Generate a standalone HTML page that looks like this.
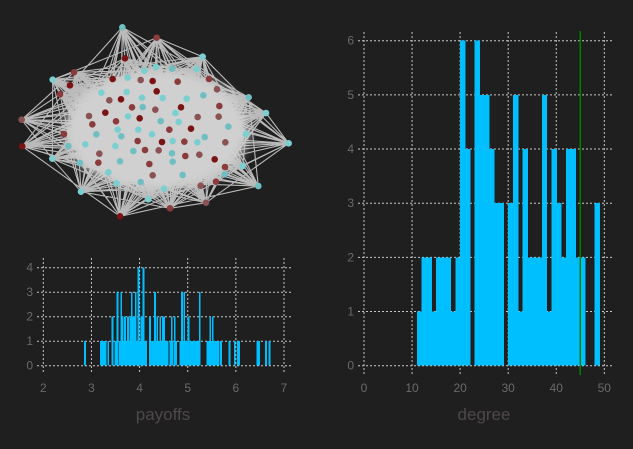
<!DOCTYPE html>
<html><head><meta charset="utf-8"><style>
html,body{margin:0;padding:0;background:#1f1f1f;}
svg{display:block;font-family:"Liberation Sans",sans-serif;}
</style></head><body>
<svg id="c" width="633" height="449" viewBox="0 0 633 449">
<defs><filter id="blur" x="-30%" y="-30%" width="160%" height="160%"><feGaussianBlur stdDeviation="5"/></filter></defs>
<rect width="633" height="449" fill="#1f1f1f"/>
<g id="net"></g>
<g id="pay"></g>
<g id="deg"></g>
</svg>
<script>
const NS="http://www.w3.org/2000/svg";
// degree histogram data
const degreeBins=[11,12,13,14,15,16,17,18,19,20,21,23,24,25,26,27,28,30,31,32,33,34,35,36,37,38,39,40,41,42,43,44,45,48];
const degreeCounts=[1,2,2,1,2,2,2,1,2,6,4,6,5,5,4,3,3,3,5,1,4,2,2,2,5,1,4,3,2,4,4,2,2,3];
const degreeXTicks=[0,10,20,30,40,50];
const degreeYTicks=[0,1,2,3,4,5,6];
const meanDegree=[45];
// payoffs histogram data
const payoffBins=[2.85,3.18,3.2,3.23,3.25,3.28,3.33,3.42,3.48,3.52,3.57,3.60,3.63,3.66,3.68,3.71,3.74,3.77,3.79,3.82,3.85,3.88,3.90,3.93,3.96,3.99,4.02,4.04,4.06,4.09,4.12,4.20,4.23,4.27,4.30,4.33,4.35,4.38,4.41,4.44,4.47,4.49,4.52,4.56,4.62,4.65,4.67,4.71,4.74,4.83,4.86,4.89,4.91,4.94,4.97,5.0,5.04,5.08,5.12,5.14,5.17,5.20,5.23,5.39,5.42,5.45,5.48,5.50,5.53,5.56,5.59,5.62,5.67,5.85,5.96,6.02,6.05,6.43,6.46,6.61,6.68];
const payoffCounts=[1,1,1,1,1,1,1,2,1,3,1,3,2,1,2,1,2,1,2,3,2,2,3,1,4,1,2,2,4,1,1,2,1,1,3,1,2,1,2,1,2,2,1,1,1,2,1,2,1,1,3,1,3,1,1,2,1,1,1,1,1,1,3,1,1,2,1,2,1,1,1,1,1,1,1,1,1,1,1,1,1];
const payoffXTicks=[2,3,4,5,6,7];
const payoffYTicks=[0,1,2,3,4];
const binW=0.025;

function el(tag,attrs,parent){const e=document.createElementNS(NS,tag);for(const k in attrs)e.setAttribute(k,attrs[k]);parent.appendChild(e);return e;}

function drawHist(g,bins,counts,xt,yt,x0,x1,xv0,xv1,y0,y1,yv1,w,gridTop,gridBot,gridL,gridR,title,tx){
  const X=v=>x0+(v-xv0)/(xv1-xv0)*(x1-x0);
  const Y=v=>y0-(v)/(yv1)*(y0-y1);
  xt.forEach(t=>{
    const l=el('line',{x1:X(t),x2:X(t),y1:gridTop,y2:gridBot,stroke:'#c8c8c8','stroke-width':1,'stroke-dasharray':'2,2'},g);
    
    
    const s=el('text',{x:X(t),y:392,'text-anchor':'middle','font-size':12,fill:'#6a6a6a'},g);s.textContent=t;
    
    
  });
  yt.forEach(t=>{
    const l=el('line',{x1:gridL,x2:gridR,y1:Y(t),y2:Y(t),stroke:'#c8c8c8','stroke-width':1,'stroke-dasharray':'2,2'},g);
    
    
    const s=el('text',{x:gridL-4,y:Y(t)+4,'text-anchor':'end','font-size':12,fill:'#6a6a6a'},g);s.textContent=t;
    
    
  });
  bins.forEach((b,i)=>{
    const r=el('rect',{x:X(b),y:Y(counts[i]),width:Math.max(1.2,X(b+w)-X(b))+0.6,height:Y(0)-Y(counts[i]),fill:'#00bfff','shape-rendering':'crispEdges'},g);
    
    
  });
  const tt=el('text',{x:tx,y:420,'text-anchor':'middle','font-size':17,fill:'#4e484c'},g);tt.textContent=title;
  
  
  return X;
}
const dg=document.getElementById('deg');
const XD=drawHist(dg,degreeBins,degreeCounts,degreeXTicks,degreeYTicks,364,604.3,0,50,365.7,40.7,6,1,32,375,358,612,'degree',484);
meanDegree.forEach(m=>{
  const l=el('line',{x1:XD(m),x2:XD(m),y1:31,y2:375,stroke:'#008000','stroke-width':1.5},dg);
  
  
});
const pg=document.getElementById('pay');
drawHist(pg,payoffBins,payoffCounts,payoffXTicks,payoffYTicks,43.3,284,2,7,365.7,267.7,4,binW,258,373,37,291,'payoffs',163);

// network
const nodes=[[337,22,'c'],[440,53,'r'],[578,110,'c'],[345,115,'r'],[192,157,'r'],[128,179,'c'],[180,196,'r'],[150,223,'r'],[35,299,'r'],[37,379,'r'],[127,416,'c'],[213,515,'c'],[330,589,'r'],[480,565,'r'],[588,548,'r'],[745,498,'c'],[836,370,'c'],[768,279,'c'],[716,232,'c'],[597,177,'r'],[560,147,'c'],[486,146,'c'],[438,141,'c'],[403,152,'c'],[308,177,'r'],[353,173,'c'],[392,180,'r'],[428,183,'r'],[503,185,'r'],[621,208,'r'],[580,226,'c'],[628,258,'r'],[626,290,'r'],[655,320,'c'],[708,342,'c'],[646,367,'r'],[614,418,'r'],[645,441,'r'],[698,438,'c'],[644,463,'c'],[618,485,'r'],[572,497,'r'],[518,465,'c'],[462,506,'c'],[415,538,'c'],[392,486,'c'],[320,490,'c'],[295,457,'c'],[210,429,'c'],[265,428,'r'],[268,401,'r'],[175,378,'c'],[162,342,'r'],[226,373,'c'],[259,343,'c'],[247,313,'r'],[237,288,'r'],[286,278,'r'],[274,218,'c'],[298,241,'r'],[333,238,'r'],[350,216,'c'],[396,233,'c'],[440,214,'r'],[458,234,'c'],[530,236,'c'],[513,262,'r'],[496,279,'c'],[436,269,'r'],[398,261,'c'],[366,262,'r'],[354,289,'c'],[389,295,'r'],[318,304,'r'],[323,329,'c'],[334,349,'c'],[385,329,'c'],[426,343,'c'],[452,303,'c'],[506,306,'c'],[563,291,'r'],[543,326,'r'],[478,329,'r'],[488,363,'c'],[456,366,'r'],[523,365,'r'],[562,367,'c'],[584,351,'c'],[383,363,'r'],[316,378,'c'],[370,393,'c'],[405,390,'r'],[446,391,'r'],[486,400,'c'],[526,408,'r'],[568,404,'r'],[488,425,'c'],[418,432,'r'],[428,466,'r'],[330,424,'c']];
const ng=document.getElementById('net');
const P=n=>[10+n[0]/3,20+n[1]/3];
let d='';
for(let i=0;i<nodes.length;i++){for(let j=i+1;j<nodes.length;j++){
  if((i*7+j*13)%3===0){const a=P(nodes[i]),b=P(nodes[j]);
    if(Math.hypot(a[0]-b[0],a[1]-b[1])<150)d+=`M${a[0].toFixed(1)} ${a[1].toFixed(1)}L${b[0].toFixed(1)} ${b[1].toFixed(1)}`;}
}}
const ed=el('path',{d:d,stroke:'#d6d6d6','stroke-width':1.1,'stroke-opacity':0.85,fill:'none'},ng);


const core=el('ellipse',{cx:10+440/3,cy:20+330/3,rx:92,ry:60,fill:'#d0d0d0',filter:'url(#blur)'},ng);


nodes.forEach((n,i)=>{const p=P(n);
  const col=n[2]==='c'?(i%3?'#7ccfd0':'#6fbfc2'):(i%3===0?'#7a1414':(i%3===1?'#8b3b3b':'#8a5252'));
  const c=el('circle',{cx:p[0],cy:p[1],r:3.3,fill:col},ng);
  
  
});
</script>
</body></html>
